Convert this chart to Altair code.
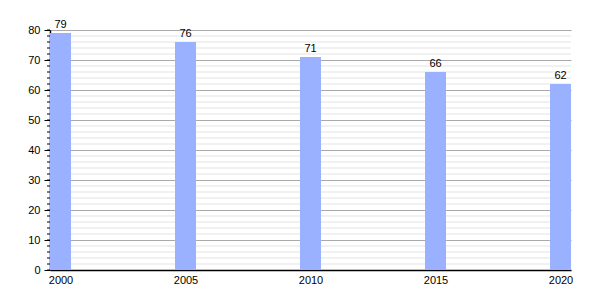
import altair as alt
import pandas as pd

years = [2000, 2005, 2010, 2015, 2020]
values = [79, 76, 71, 66, 62]
major_ticks = [0, 10, 20, 30, 40, 50, 60, 70, 80]
minor_ticks = [2, 4, 6, 8, 12, 14, 16, 18, 22, 24, 26, 28, 32, 34, 36, 38,
               42, 44, 46, 48, 52, 54, 56, 58, 62, 64, 66, 68, 72, 74, 76, 78]
all_ticks = sorted(major_ticks + minor_ticks)

BAR_W = 0.84
df = pd.DataFrame({"year": years, "value": values})
df["year_end"] = df["year"] + BAR_W
df["mid"] = df["year"] + BAR_W / 2

minor_df = pd.DataFrame({"v": minor_ticks})
tick_df = pd.DataFrame({"v": all_ticks})

FONT = "Liberation Sans"
xscale = alt.Scale(domain=[2000, 2020 + BAR_W], nice=False, zero=False, padding=0)
yscale = alt.Scale(domain=[0, 80], nice=False, padding=0)

yaxis = alt.Axis(values=major_ticks, title=None, tickSize=6,
                 tickColor="#000000", domainColor="#000000", domainWidth=1.5,
                 grid=True, gridColor="#aaaaaa", gridWidth=1,
                 labelColor="#000000", labelFont=FONT, labelFontSize=11,
                 labelPadding=4, labelOverlap=False)
xaxis = alt.Axis(values=[y + BAR_W / 2 for y in years],
                 labelExpr="'' + floor(datum.value)",
                 title=None, ticks=False, grid=False,
                 domainColor="#000000", domainWidth=1.5,
                 labelColor="#000000", labelFont=FONT, labelFontSize=11,
                 labelPadding=4, labelOverlap=False)

minor_grid = alt.Chart(minor_df).mark_rule(color="#e3e3e3", strokeWidth=1).encode(
    y=alt.Y("v:Q", scale=yscale, axis=yaxis),
    x=alt.value(0), x2=alt.value(521),
)

minor_tk = alt.Chart(tick_df).mark_rule(color="#000000", strokeWidth=1).encode(
    y=alt.Y("v:Q", scale=yscale, axis=yaxis),
    x=alt.value(-3), x2=alt.value(0),
)

bars = alt.Chart(df).mark_bar(color="#99b1ff", orient="vertical").encode(
    x=alt.X("year:Q", scale=xscale, axis=xaxis),
    x2="year_end:Q",
    y=alt.Y("value:Q", scale=yscale, axis=yaxis),
    y2=alt.datum(0),
)

labels = alt.Chart(df).mark_text(baseline="bottom", dy=-3, font=FONT, fontSize=11,
                                 color="#000000").encode(
    x=alt.X("mid:Q", scale=xscale, axis=xaxis),
    y=alt.Y("value:Q", scale=yscale, axis=yaxis),
    text="value:Q",
)

chart = alt.layer(minor_grid, bars, labels, minor_tk).properties(
    width=521, height=240,
    autosize=alt.AutoSizeParams(type="none"),
    padding={"left": 50, "top": 30, "right": 29, "bottom": 30},
    background="#ffffff",
).configure_view(stroke=None)

chart.save("out.html", embed_options={"renderer": "svg", "actions": False})
